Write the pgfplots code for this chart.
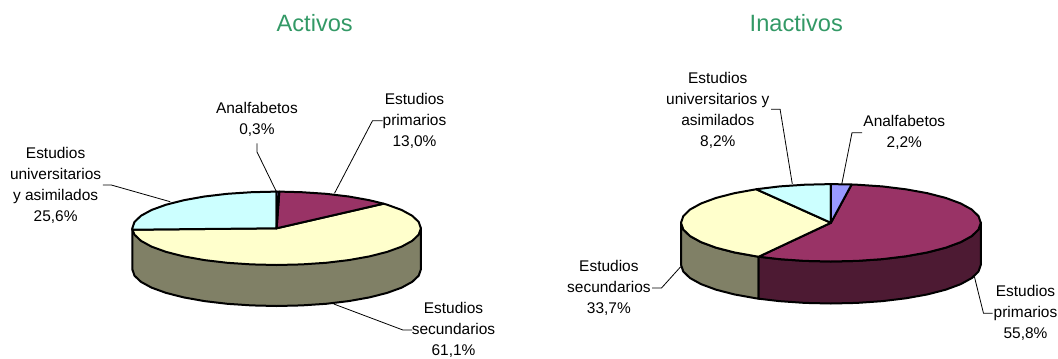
\documentclass[border=0pt]{standalone}
\usepackage{fontspec}
\setmainfont{Liberation Sans}
\usepackage{pgfplots}
\pgfplotsset{compat=1.18}
\definecolor{ttl}{HTML}{339966}
\definecolor{cana}{HTML}{9999FF}
\definecolor{cpri}{HTML}{993366}
\definecolor{cprid}{HTML}{4D1A33}
\definecolor{csec}{HTML}{FFFFCC}
\definecolor{csecd}{HTML}{808066}
\definecolor{cuni}{HTML}{CCFFFF}
\tikzset{
  lbl/.style={font=\fontsize{11.6}{15.75}\selectfont,align=center,text=black,inner sep=0pt},
  ttlnode/.style={font=\fontsize{17.7}{21}\selectfont,text=ttl,anchor=base,inner sep=0pt}
}
\pgfplotsset{
  slice/.style={draw=black,line width=1.5pt,line join=round,fill=#1,mark=none},
  leader/.style={draw=black,line width=0.6pt,mark=none}
}
\begin{document}
\begin{tikzpicture}
\begin{axis}[
  scale only axis,width=793.5pt,height=268.5pt,
  xmin=0,xmax=1058,ymin=0,ymax=358,y dir=reverse,
  hide axis,clip=false]
\path (axis cs:0,0) rectangle (axis cs:1058,358);

% Activos: side walls
\addplot[slice=csecd] coordinates {
(420.9,228.3)(420.9,269.3)(418.7,275.7)(412.2,281.85)(401.6,287.65)(387.1,292.9)(369.4,297.4)(348.75,301.1)(326,303.8)(301.7,305.4)(276.6,306)(251.5,305.4)(227.3,303.8)(204.45,301.1)(183.8,297.4)(166.1,292.9)(151.6,287.65)(141,281.85)(134.5,275.7)(132.3,269.3)(132.3,228.3)
} -- cycle;
% Activos: secundarios 61,1
\addplot[slice=csec] coordinates {
(276.6,228.3)(383.6,203.7)(387.1,204.7)(401.6,209.95)(412.2,215.75)(418.7,221.9)(420.9,228.3)(418.7,234.7)(412.2,240.85)(401.6,246.65)(387.1,251.9)(369.4,256.4)(348.75,260.1)(326,262.8)(301.7,264.4)(276.6,265)(251.5,264.4)(227.3,262.8)(204.45,260.1)(183.8,256.4)(166.1,251.9)(151.6,246.65)(141,240.85)(134.5,234.7)(132.4,229.7)
} -- cycle;
% Activos: universitarios 25,6
\addplot[slice=cuni] coordinates {
(276.6,228.3)(132.4,229.7)(132.3,228.3)(134.5,221.9)(141,215.75)(151.6,209.95)(166.1,204.7)(183.8,200.2)(204.45,196.5)(227.3,193.8)(251.5,192.2)(276.6,191.6)
} -- cycle;
% Activos: primarios 13,0
\addplot[slice=cpri] coordinates {
(276.6,228.3)(279.3,191.6)(301.7,192.2)(326,193.8)(348.75,196.5)(369.4,200.2)(383.6,203.7)
} -- cycle;
% Activos: analfabetos 0,3
\addplot[slice=cana] coordinates {
(276.6,228.3)(276.6,191.6)(279.3,191.6)
} -- cycle;

% Inactivos: side walls
\addplot[slice=csecd] coordinates {
(758.7,256.7)(758.7,298.7)(755.95,298.3)(734.55,294.45)(716.1,289.7)(701.1,284.15)(690,278.05)(683.3,271.5)(681,264.8)(681,222.8)(683.3,229.5)(690,236.05)(701.1,242.15)(716.1,247.7)(734.55,252.45)(755.95,256.3)
} -- cycle;
\addplot[slice=cprid] coordinates {
(980.8,222.8)(980.8,264.8)(978.5,271.5)(971.8,278.05)(960.7,284.15)(945.7,289.7)(927.25,294.45)(905.85,298.3)(882.2,301.15)(856.9,302.9)(830.9,303.5)(804.9,302.9)(779.6,301.15)(758.7,298.7)(758.7,256.7)(779.6,259.15)(804.9,260.9)(830.9,261.5)(856.9,260.9)(882.2,259.15)(905.85,256.3)(927.25,252.45)(945.7,247.7)(960.7,242.15)(971.8,236.05)(978.5,229.5)
} -- cycle;
% Inactivos: primarios 55,8
\addplot[slice=cpri] coordinates {
(830.9,222.8)(851.6,184.5)(856.9,184.7)(882.2,186.4)(905.85,189.3)(927.25,193.15)(945.7,197.9)(960.7,203.45)(971.8,209.55)(978.5,216.1)(980.8,222.8)(978.5,229.5)(971.8,236.05)(960.7,242.15)(945.7,247.7)(927.25,252.45)(905.85,256.3)(882.2,259.15)(856.9,260.9)(830.9,261.5)(804.9,260.9)(779.6,259.15)(758.7,256.7)
} -- cycle;
% Inactivos: secundarios 33,7
\addplot[slice=csec] coordinates {
(830.9,222.8)(758.7,256.7)(755.95,256.3)(734.55,252.45)(716.1,247.7)(701.1,242.15)(690,236.05)(683.3,229.5)(681,222.8)(683.3,216.1)(690,209.55)(701.1,203.45)(716.1,197.9)(734.55,193.15)(756.2,189.25)
} -- cycle;
% Inactivos: universitarios 8,2
\addplot[slice=cuni] coordinates {
(830.9,222.8)(756.2,189.25)(779.6,186.4)(804.9,184.7)(830.9,184.1)
} -- cycle;
% Inactivos: analfabetos 2,2
\addplot[slice=cana] coordinates {
(830.9,222.8)(830.9,184.1)(851.6,184.5)
} -- cycle;

% leader lines
\addplot[leader] coordinates {(256.9,143.3)(256.9,151.7)(276.4,191.7)};
\addplot[leader] coordinates {(382.6,120.7)(372.5,120.7)(334.5,193.3)};
\addplot[leader] coordinates {(102.9,185)(111.3,185)(170.2,201.7)};
\addplot[leader] coordinates {(412,330)(402.9,330)(333.8,304)};
\addplot[leader] coordinates {(862.1,132.7)(852,132.7)(841.8,184)};
\addplot[leader] coordinates {(771,109.3)(780.1,109.3)(792.3,184)};
\addplot[leader] coordinates {(652.1,288)(661.5,288)(680.7,266.7)};
\addplot[leader] coordinates {(992.6,313.3)(983.5,313.3)(974.4,276.7)};

% titles
\node[ttlnode] at (axis cs:314.7,31.7) {Activos};
\node[ttlnode] at (axis cs:796.3,31.7) {Inactivos};

% labels
\node[lbl] at (axis cs:256.9,119.5) {Analfabetos\\0,3\%};
\node[lbl] at (axis cs:414.5,121) {Estudios\\primarios\\13,0\%};
\node[lbl] at (axis cs:55.6,185.3) {Estudios\\universitarios\\y asimilados\\25,6\%};
\node[lbl] at (axis cs:453.5,330) {Estudios\\secundarios\\61,1\%};
\node[lbl] at (axis cs:717.8,110) {Estudios\\universitarios y\\asimilados\\8,2\%};
\node[lbl] at (axis cs:904.3,132.3) {Analfabetos\\2,2\%};
\node[lbl] at (axis cs:608.9,288) {Estudios\\secundarios\\33,7\%};
\node[lbl] at (axis cs:1025.5,313.3) {Estudios\\primarios\\55,8\%};
\end{axis}
\end{tikzpicture}
\end{document}
